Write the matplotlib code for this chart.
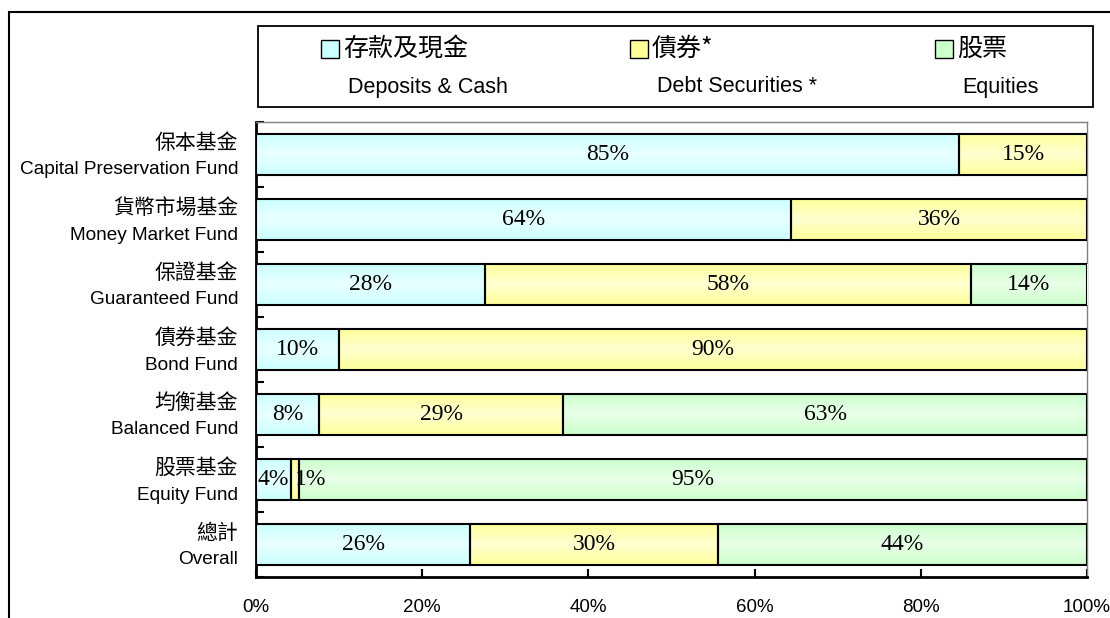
import matplotlib.pyplot as plt
import numpy as np
from matplotlib.patches import Rectangle
from matplotlib.colors import LinearSegmentedColormap, to_rgb
from matplotlib import transforms

# data
funds_zh = ['保本基金', '貨幣市場基金', '保證基金', '債券基金', '均衡基金', '股票基金', '總計']
funds_en = ['Capital Preservation Fund', 'Money Market Fund', 'Guaranteed Fund',
            'Bond Fund', 'Balanced Fund', 'Equity Fund', 'Overall']
deposits = [84.6, 64.4, 27.6, 10.0, 7.6, 4.2, 25.8]
debt = [15.4, 35.6, 58.4, 90.0, 29.4, 1.0, 29.8]
equities = [0.0, 0.0, 14.0, 0.0, 63.0, 94.8, 44.4]
series_zh = ['存款及現金', '債券*', '股票']
series_en = ['Deposits & Cash', 'Debt Securities *', 'Equities']
colors = ['#CCFFFF', '#FFFF99', '#CCFFCC']
xticks = [0, 20, 40, 60, 80, 100]

CJK = ['Noto Sans CJK TC', 'DejaVu Sans']
SANS = ['Liberation Sans', 'DejaVu Sans']
SERIF = ['Liberation Serif', 'DejaVu Serif']

W, H = 1110, 618
fig = plt.figure(figsize=(W / 100, H / 100), dpi=100)


def fx(px):
    return px / W


def fy(py):
    return 1 - py / H


ax = fig.add_axes([fx(256), fy(577), fx(1087) - fx(256), fy(122) - fy(577)])

# vertical gradient: base colour at the edges, lighter in the middle
grad = np.abs(np.linspace(-1, 1, 64)).reshape(-1, 1)

y = np.arange(len(funds_en))
left = np.zeros(len(y))
for vals, col in zip([deposits, debt, equities], colors):
    vals = np.array(vals)
    base = np.array(to_rgb(col))
    light = base + (1 - base) * 0.55
    cmap = LinearSegmentedColormap.from_list('g', [light, base])
    bars = ax.barh(y, vals, left=left, height=0.645, color=col,
                   edgecolor='none', zorder=3)
    ax.barh(y, vals, left=left, height=0.645, fill=False,
            edgecolor=['black' if v > 0 else 'none' for v in vals],
            linewidth=1.5, zorder=3.3)
    for b, v in zip(bars, vals):
        if v <= 0:
            b.set_visible(False)
            continue
        x0, y0 = b.get_x(), b.get_y()
        im = ax.imshow(grad, cmap=cmap, vmin=0, vmax=1, aspect='auto',
                       extent=[x0, x0 + b.get_width(), y0 + b.get_height(), y0],
                       interpolation='bilinear', zorder=3.1)
        im.set_clip_path(b)
        cx = x0 + b.get_width() / 2
        ha = 'center'
        if v < 2:
            ha = 'left'
        ax.text(cx, y0 + b.get_height() / 2, f'{v:.0f}%', ha=ha, va='center',
                fontsize=17, family=SERIF, zorder=4)
    left += vals

ax.set_xlim(0, 100)
ax.set_ylim(len(y) - 0.5, -0.5)
ax.set_aspect('auto')
ax.set_xticks(xticks)
ax.set_xticklabels([f'{t}%' for t in xticks], family=SANS, fontsize=13.5)
ax.tick_params(axis='x', direction='in', length=6, width=1.5, pad=16)
ax.set_yticks(np.arange(-0.5, len(y)))
ax.set_yticklabels([])
ax.tick_params(axis='y', direction='in', length=6, width=1.5)

for s in ['top', 'right']:
    ax.spines[s].set_color('#808080')
    ax.spines[s].set_linewidth(1)
for s in ['left', 'bottom']:
    ax.spines[s].set_color('black')
    ax.spines[s].set_linewidth(2)

# two-line category labels
trans = transforms.blended_transform_factory(ax.transAxes, ax.transData)
for i in y:
    ax.annotate(funds_zh[i], xy=(0, i), xycoords=trans, xytext=(-18, 11.5),
                textcoords='offset pixels', ha='right', va='center',
                fontsize=15, family=CJK)
    ax.annotate(funds_en[i], xy=(0, i), xycoords=trans, xytext=(-18, -15.5),
                textcoords='offset pixels', ha='right', va='center',
                fontsize=13.7, family=SANS)

# outer frame
fig.add_artist(Rectangle((fx(9), -0.05), 1.1, fy(12) + 0.05, transform=fig.transFigure,
                         fill=False, edgecolor='black', linewidth=1.5, clip_on=False))

# legend box
fig.add_artist(Rectangle((fx(258), fy(107)), fx(1093) - fx(258), fy(26) - fy(107),
                         transform=fig.transFigure, fill=False, edgecolor='black',
                         linewidth=1.3))
sq_left = [321, 630, 935]
for sx, col, zh, en in zip(sq_left, colors, series_zh, series_en):
    fig.add_artist(Rectangle((fx(sx), fy(58)), fx(18), fy(40) - fy(58),
                             transform=fig.transFigure, facecolor=col,
                             edgecolor='black', linewidth=1))
    fig.text(fx(sx + 22), fy(49), zh, ha='left', va='center', fontsize=18, family=CJK)
    fig.text(fx(sx + 27), fy(87), en, ha='left', va='center', fontsize=15.5, family=SANS)

fig.savefig('out.png', dpi=100)
